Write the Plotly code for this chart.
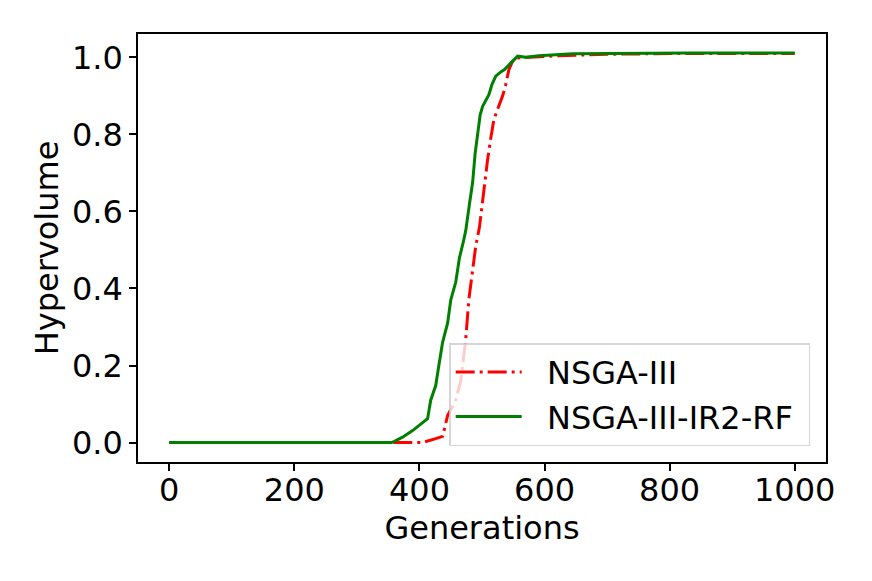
import plotly.graph_objects as go

# NSGA-III (red, dash-dot)
gen_nsga3 = [0, 405, 426, 437, 445, 452, 458, 466, 474, 479, 485, 490, 496, 501, 509,
             514, 519, 526, 533, 538, 543, 549, 554, 565, 590, 620, 700, 830, 1000]
hv_nsga3 = [0.0, 0.0, 0.010, 0.016, 0.070, 0.090, 0.110, 0.160, 0.269, 0.372, 0.450, 0.510,
            0.560, 0.631, 0.735, 0.790, 0.838, 0.870, 0.900, 0.930, 0.968, 0.990, 0.998,
            0.999, 1.002, 1.004, 1.008, 1.010, 1.010]

# NSGA-III-IR2-RF (green, solid)
gen_ir2 = [0, 355, 360, 373, 389, 405, 413, 418, 426, 431, 437, 445, 450, 458, 464, 470,
           474, 480, 485, 489, 493, 497, 501, 505, 511, 516, 522, 530, 536, 546, 557, 570,
           591, 645, 700, 830, 1000]
hv_ir2 = [0.0, 0.0, 0.003, 0.014, 0.031, 0.053, 0.062, 0.110, 0.148, 0.200, 0.260, 0.310,
          0.370, 0.416, 0.480, 0.520, 0.550, 0.620, 0.675, 0.750, 0.800, 0.850, 0.873,
          0.885, 0.903, 0.930, 0.951, 0.962, 0.968, 0.985, 1.003, 1.000, 1.004, 1.009,
          1.010, 1.011, 1.011]

x_ticks = [0, 200, 400, 600, 800, 1000]
y_ticks = [0.0, 0.2, 0.4, 0.6, 0.8, 1.0]

FONT = "DejaVu Sans"
FS = 32
NB = "\u00a0\u00a0"

fig = go.Figure()
fig.add_trace(go.Scatter(x=gen_nsga3, y=hv_nsga3, mode="lines", name=NB + "NSGA-III",
                         line=dict(color="#ff0000", width=3, dash="19px,5px,3px,5px")))
fig.add_trace(go.Scatter(x=gen_ir2, y=hv_ir2, mode="lines", name=NB + "NSGA-III-IR2-RF\u00a0",
                         line=dict(color="#008000", width=3)))

axis_common = dict(showline=True, mirror=True, linecolor="black", linewidth=1.5,
                   ticks="outside", ticklen=7, tickwidth=1.5, tickcolor="black",
                   showgrid=False, zeroline=False,
                   tickfont=dict(family=FONT, size=FS, color="black"))

fig.update_layout(
    width=872, height=581,
    margin=dict(l=130, r=54, t=26, b=127),
    paper_bgcolor="white", plot_bgcolor="white",
    font=dict(family=FONT, size=FS, color="black"),
    xaxis=dict(range=[-50, 1050], tickvals=x_ticks, ticktext=[str(v) for v in x_ticks],
               ticklabelstandoff=-8,
               title=dict(text="Generations", font=dict(family=FONT, size=FS), standoff=0),
               **axis_common),
    yaxis=dict(range=[-0.0505, 1.0605], tickvals=y_ticks, ticktext=[f"{v:.1f}" for v in y_ticks],
               title=dict(text="Hypervolume", font=dict(family=FONT, size=FS), standoff=4),
               **axis_common),
    legend=dict(x=0.977, y=0.037, xanchor="right", yanchor="bottom",
                bgcolor="rgba(255,255,255,0.8)", bordercolor="rgba(204,204,204,0.8)",
                borderwidth=1.5, font=dict(family=FONT, size=FS, color="black"),
                itemwidth=66, tracegroupgap=0),
    showlegend=True,
)

fig.write_html("out.html")
